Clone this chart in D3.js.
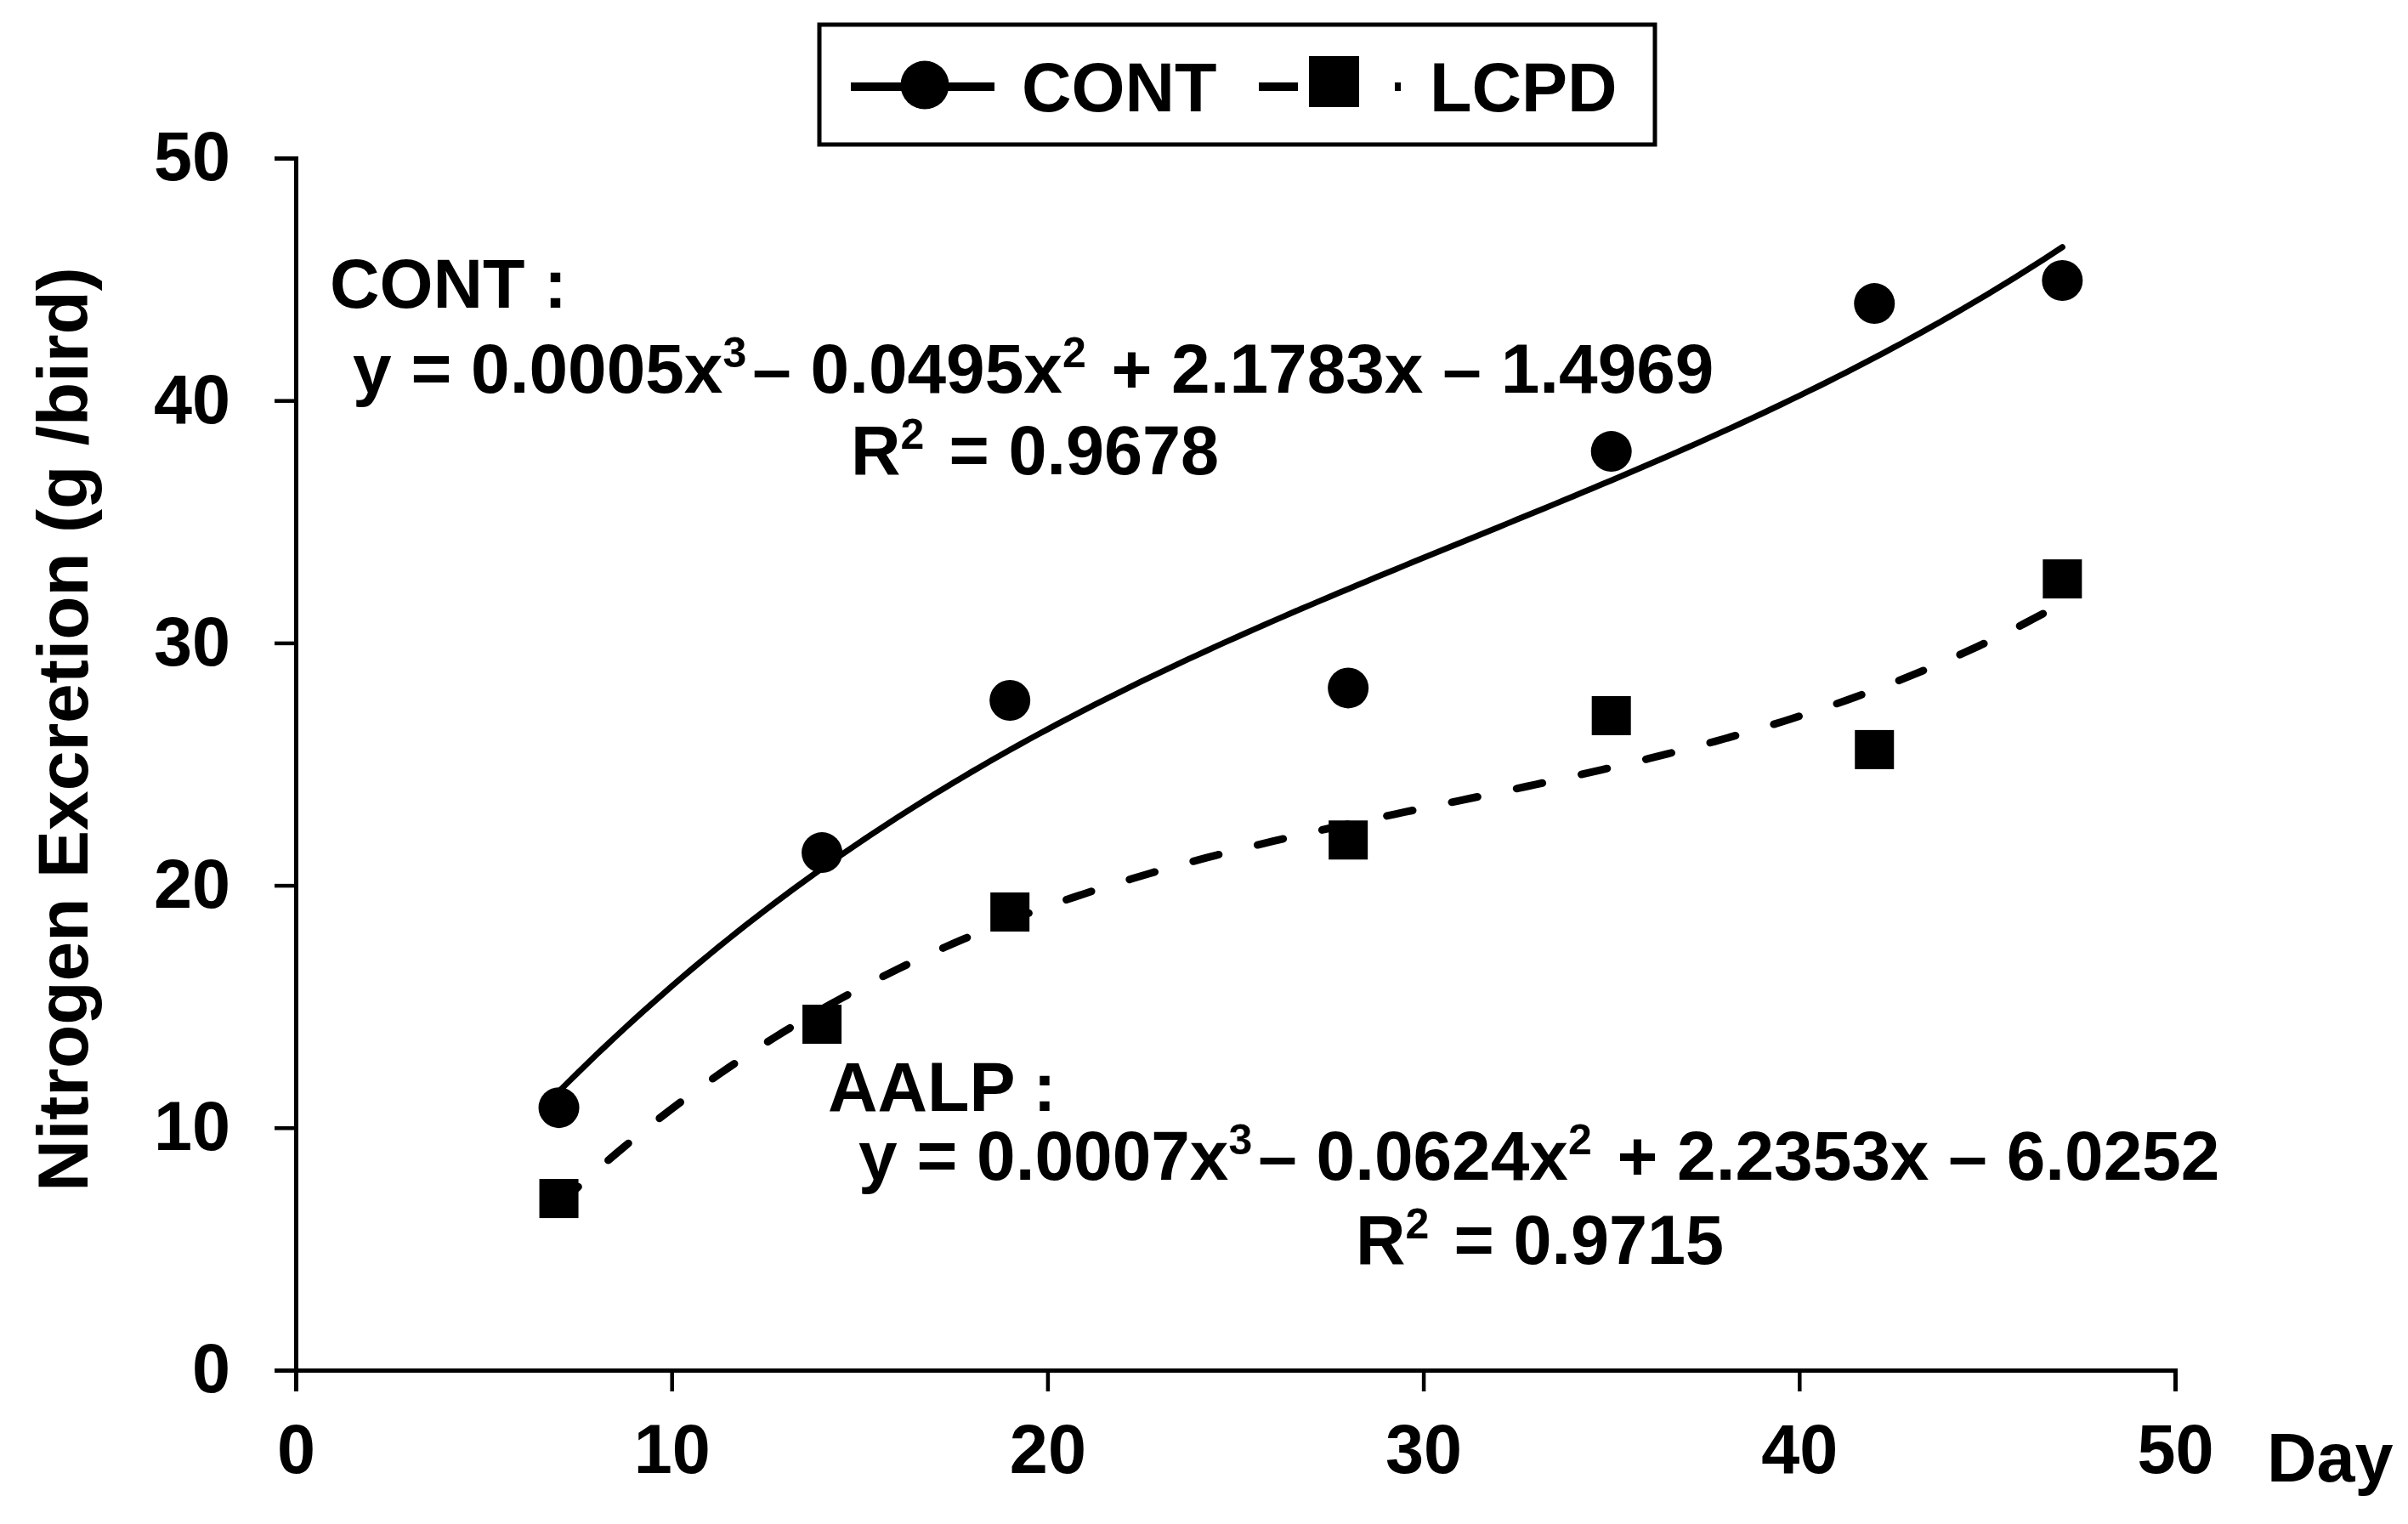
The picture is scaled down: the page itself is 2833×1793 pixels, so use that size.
<!DOCTYPE html>
<html>
<head>
<meta charset="utf-8">
<script src="https://cdn.jsdelivr.net/npm/d3@7"></script>
<style>
  html, body { margin: 0; padding: 0; background: #fff; }
  svg text { font-family: "Liberation Sans", Arial, sans-serif; font-weight: bold; fill: #000; }
</style>
</head>
<body>
<svg id="chart" width="2833" height="1793"></svg>
<script>
// ---- data ----
const days = [7, 14, 19, 28, 35, 42, 47];
const contValues = [10.83, 21.35, 27.63, 28.14, 37.9, 44.0, 44.95];
const lcpdValues = [7.08, 14.27, 18.9, 21.87, 27.0, 25.6, 32.64];
const xTicks = [0, 10, 20, 30, 40, 50];
const yTicks = [0, 10, 20, 30, 40, 50];
const seriesNames = ["CONT", "LCPD"];
const yTitle = "Nitrogen Excretion (g /bird)";
const xTitle = "Day";

// ---- cubic least-squares trendline (as the spreadsheet does) ----
function polyFit(xs, ys, deg) {
  const n = deg + 1;
  const A = Array.from({length: n}, () => new Array(n + 1).fill(0));
  for (let r = 0; r < n; r++) {
    for (let c = 0; c < n; c++) A[r][c] = d3.sum(xs, x => Math.pow(x, r + c));
    A[r][n] = d3.sum(xs, (x, i) => ys[i] * Math.pow(x, r));
  }
  for (let i = 0; i < n; i++) {
    let p = i;
    for (let k = i + 1; k < n; k++) if (Math.abs(A[k][i]) > Math.abs(A[p][i])) p = k;
    [A[i], A[p]] = [A[p], A[i]];
    for (let k = i + 1; k < n; k++) {
      const f = A[k][i] / A[i][i];
      for (let j = i; j <= n; j++) A[k][j] -= f * A[i][j];
    }
  }
  const coef = new Array(n).fill(0);
  for (let i = n - 1; i >= 0; i--) {
    let s = A[i][n];
    for (let j = i + 1; j < n; j++) s -= A[i][j] * coef[j];
    coef[i] = s / A[i][i];
  }
  return x => coef.reduce((acc, c, k) => acc + c * Math.pow(x, k), 0);
}

const svg = d3.select("#chart");
const x = d3.scaleLinear().domain([0, 50]).range([348, 2559]);
const y = d3.scaleLinear().domain([0, 50]).range([1612, 186]);

// ---- axes ----
const fontSize = 81;
const gx = svg.append("g").attr("transform", `translate(0,${y(0)})`)
  .call(d3.axisBottom(x).tickValues(xTicks).tickSize(25).tickPadding(38));
const gy = svg.append("g").attr("transform", `translate(${x(0)},0)`)
  .call(d3.axisLeft(y).tickValues(yTicks).tickSize(25).tickPadding(52));
[gx, gy].forEach(g => {
  g.select(".domain").attr("stroke", "#000").attr("stroke-width", 5);
  g.selectAll(".tick line").attr("stroke", "#000").attr("stroke-width", 4.5);
  g.selectAll(".tick text").attr("font-size", fontSize)
    .style("font-family", '"Liberation Sans", Arial, sans-serif').style("font-weight", "bold").attr("fill", "#000");
});

svg.append("text").attr("x", 2667).attr("y", 1743).attr("font-size", fontSize).text(xTitle);
svg.append("text").attr("transform", "translate(103,858) rotate(-90)")
  .attr("text-anchor", "middle").attr("font-size", 84).text(yTitle);

// ---- trendlines ----
const sampleX = d3.range(7, 47.001, 0.25);
const line = d3.line().x(d => x(d[0])).y(d => y(d[1])).curve(d3.curveLinear);
const fitCont = polyFit(days, contValues, 3);
const fitLcpd = polyFit(days, lcpdValues, 3);
svg.append("path").attr("d", line(sampleX.map(v => [v, fitCont(v)])))
  .attr("fill", "none").attr("stroke", "#000").attr("stroke-width", 7).attr("stroke-linecap", "round");
svg.append("path").attr("d", line(sampleX.map(v => [v, fitLcpd(v)])))
  .attr("fill", "none").attr("stroke", "#000").attr("stroke-width", 9)
  .attr("stroke-linecap", "round").attr("stroke-dasharray", "31,47");

// ---- markers ----
svg.append("g").selectAll("circle").data(days).join("circle")
  .attr("cx", d => x(d)).attr("cy", (d, i) => y(contValues[i])).attr("r", 24).attr("fill", "#000");
const sq = 46;
svg.append("g").selectAll("rect").data(days).join("rect")
  .attr("x", d => x(d) - sq / 2).attr("y", (d, i) => y(lcpdValues[i]) - sq / 2)
  .attr("width", sq).attr("height", sq).attr("fill", "#000");

// ---- equations ----
function eqText(xp, yp, parts, fs) {
  const t = svg.append("text").attr("x", xp).attr("y", yp).attr("font-size", fs || fontSize);
  parts.forEach(p => {
    if (typeof p === "string") t.append("tspan").text(p);
    else {
      t.append("tspan").attr("font-size", 50).attr("dy", -30).text(p.sup);
      t.append("tspan").attr("dy", 30).text("\u200A");
    }
  });
  return t;
}
eqText(388, 362, ["CONT :"]);
eqText(415, 462, ["y = 0.0005x", {sup: "3"}, "\u2013 0.0495x", {sup: "2"}, " + 2.1783x \u2013 1.4969"], 82);
eqText(1001, 558, ["R", {sup: "2"}, " = 0.9678"]);
eqText(974, 1307, ["AALP :"]);
eqText(1010, 1388, ["y = 0.0007x", {sup: "3"}, "\u2013 0.0624x", {sup: "2"}, " + 2.2353x \u2013 6.0252"], 82);
eqText(1595, 1487, ["R", {sup: "2"}, " = 0.9715"]);

// ---- legend ----
const lg = svg.append("g");
lg.append("rect").attr("x", 964).attr("y", 29).attr("width", 983).attr("height", 141)
  .attr("fill", "#fff").attr("stroke", "#000").attr("stroke-width", 5);
lg.append("line").attr("x1", 1001).attr("x2", 1170).attr("y1", 102).attr("y2", 102)
  .attr("stroke", "#000").attr("stroke-width", 10);
lg.append("circle").attr("cx", 1088).attr("cy", 100).attr("r", 28.5).attr("fill", "#000");
lg.append("text").attr("x", 1202).attr("y", 131).attr("font-size", fontSize).text(seriesNames[0]);
lg.append("line").attr("x1", 1481).attr("x2", 1648).attr("y1", 102).attr("y2", 102)
  .attr("stroke", "#000").attr("stroke-width", 10).attr("stroke-dasharray", "46 32 40 42");
lg.append("rect").attr("x", 1540).attr("y", 66).attr("width", 59).attr("height", 60).attr("fill", "#000");
lg.append("text").attr("x", 1682).attr("y", 131).attr("font-size", fontSize).text(seriesNames[1]);
</script>
</body>
</html>
